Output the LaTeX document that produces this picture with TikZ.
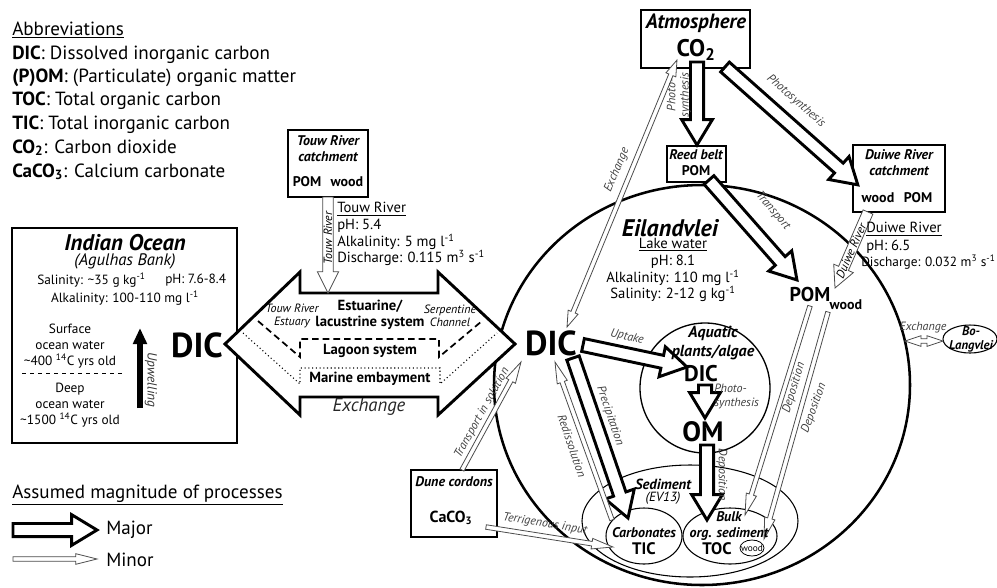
\documentclass[tikz,border=0pt]{standalone}
\usepackage{fontspec}
\setmainfont{PT Sans}
\usetikzlibrary{calc,arrows.meta}

% block arrow: style, shaft half width, head half width, head length, from, to
\newcommand{\flowarrow}[6]{%
  \filldraw[#1] let \p1=(#5), \p2=(#6),
    \n1={atan2(\y2-\y1,\x2-\x1)}, \n2={veclen(\x2-\x1,\y2-\y1)} in
    [shift={(\p1)}, rotate=\n1]
    (0pt,-#2) -- ({\n2*1pt-#4},-#2) -- ({\n2*1pt-#4},-#3) -- ({\n2*1pt},0pt)
    -- ({\n2*1pt-#4},#3) -- ({\n2*1pt-#4},#2) -- (0pt,#2) -- cycle;}
\newcommand{\flowboth}[6]{%
  \filldraw[#1] let \p1=(#5), \p2=(#6),
    \n1={atan2(\y2-\y1,\x2-\x1)}, \n2={veclen(\x2-\x1,\y2-\y1)} in
    [shift={(\p1)}, rotate=\n1]
    (0pt,0pt) -- (#4,#3) -- (#4,#2) -- ({\n2*1pt-#4},#2) -- ({\n2*1pt-#4},#3) -- ({\n2*1pt},0pt)
    -- ({\n2*1pt-#4},-#3) -- ({\n2*1pt-#4},-#2) -- (#4,-#2) -- (#4,-#3) -- cycle;}
\newcommand{\majorflow}[2]{\flowarrow{bigflow}{4.9pt}{11.5pt}{19pt}{#1}{#2}}
\newcommand{\minorflow}[2]{\flowarrow{smallflow}{1.7pt}{4pt}{16pt}{#1}{#2}}
\newcommand{\riverflow}[2]{\flowarrow{smallflow}{4pt}{8pt}{16pt}{#1}{#2}}
\newcommand{\minorboth}[2]{\flowboth{smallflow}{1.7pt}{4pt}{12pt}{#1}{#2}}

\begin{document}
\begin{tikzpicture}[x=0.75pt,y=-0.75pt,line join=miter,
  every node/.style={inner sep=0pt},
  bigflow/.style={draw=black,line width=2.2pt,fill=white},
  smallflow/.style={draw=black!70,line width=0.6pt,fill=white},
  abbr/.style={anchor=base west,font=\fontsize{14.3}{16}\selectfont},
  info/.style={anchor=west,font=\fontsize{11}{12}\selectfont},
  oceantxt/.style={font=\fontsize{10}{12}\selectfont},
  boxtitle/.style={align=center,font=\bfseries\itshape\fontsize{10.5}{12}\selectfont},
  poolname/.style={font=\bfseries\fontsize{10.5}{12}\selectfont},
  bigdic/.style={font=\bfseries\fontsize{26}{28}\selectfont},
  subsys/.style={align=center,font=\bfseries\fontsize{11}{12}\selectfont},
  proclabel/.style={align=center,font=\itshape\fontsize{9}{10}\selectfont,text=black!75},
]

\useasboundingbox (0,0) rectangle (997,587);

% abbreviations
\node[abbr] (abbrhead) at (12,35) {\underline{Abbreviations}};
\node[abbr] (abbrdic) at (12,59) {\textbf{DIC}: Dissolved inorganic carbon};
\node[abbr] (abbrpom) at (12,82) {\textbf{(P)OM}: (Particulate) organic matter};
\node[abbr] (abbrtoc) at (12,105) {\textbf{TOC}: Total organic carbon};
\node[abbr] (abbrtic) at (12,129) {\textbf{TIC}: Total inorganic carbon};
\node[abbr] (abbrco) at (12,153) {\textbf{CO\textsubscript{2}}: Carbon dioxide};
\node[abbr] (abbrcaco) at (12,177) {\textbf{CaCO\textsubscript{3}}: Calcium carbonate};

% lake and sediment outlines
\draw[line width=1.9pt] (702,385) ellipse [x radius=208, y radius=200];
\draw[line width=1pt] (705,388) circle [radius=65];
\draw[line width=0.8pt] (690,521) ellipse [x radius=108, y radius=56];
\draw[line width=0.8pt] (644,536) ellipse [x radius=38, y radius=28];
\draw[line width=0.8pt] (730,536) ellipse [x radius=47, y radius=28];
\draw[line width=0.6pt] (752,548) ellipse [x radius=12, y radius=8];
\draw[line width=0.8pt] (970,339) ellipse [x radius=27, y radius=14];

% boxes
\draw[line width=2.2pt] (12,228) rectangle (237,443);
\draw[line width=1.1pt] (288,130) rectangle (368,197);
\draw[line width=1pt] (641,10) rectangle (750,68);
\draw[line width=1pt] (667,146) rectangle (726,182);
\draw[line width=1pt] (853,145) rectangle (945,212);
\draw[line width=1pt] (411,470) rectangle (497,537);

% exchange between ocean and lake
\draw[line width=2.2pt,fill=white] (225,344) -- (300,272) -- (300,293) -- (438,293) -- (438,272)
  -- (515,344) -- (438,415) -- (438,397) -- (300,397) -- (300,415) -- cycle;
\draw[line width=1.3pt,dash pattern=on 5pt off 3pt] (258,321) -- (300,357) -- (300,339) -- (439,339) -- (439,357) -- (482,321);
\draw[line width=0.8pt,dotted] (243,333) -- (300,384) -- (300,368) -- (440,368) -- (440,384) -- (497,333);

% process arrows
\coordinate (touwout) at (328,197);
\coordinate (touwin) at (328,293);
\coordinate (co2down) at (697,62);
\coordinate (reedin) at (697,145);
\coordinate (co2right) at (725,67);
\coordinate (duiwein) at (858,185);
\coordinate (reedout) at (709,180);
\coordinate (pomin) at (797,280);
\coordinate (duiweout) at (868,212);
\coordinate (duiwelake) at (835,288);
\coordinate (dicup) at (583,345);
\coordinate (algaein) at (687,367);
\coordinate (algdic) at (705,385);
\coordinate (omin) at (705,418);
\coordinate (omout) at (707,445);
\coordinate (bulkin) at (707,520);
\coordinate (dicprec) at (573,358);
\coordinate (carbin) at (628,518);
\coordinate (carbout) at (612,520);
\coordinate (dicredis) at (555,362);
\coordinate (duneout) at (462,470);
\coordinate (dicsol) at (521,362);
\coordinate (caco3out) at (486,527);
\coordinate (carbterr) at (613,547);
\coordinate (dictop) at (567,327);
\coordinate (atmbot) at (677,60);
\coordinate (pomdep) at (810,306);
\coordinate (bulkdep) at (745,515);
\coordinate (wooddep) at (828,312);
\coordinate (woodsed) at (764,539);
\coordinate (lakeedge) at (905,341);
\coordinate (bolang) at (943,341);

\riverflow{touwout}{touwin}
\majorflow{co2down}{reedin}
\majorflow{co2right}{duiwein}
\majorflow{reedout}{pomin}
\riverflow{duiweout}{duiwelake}
\majorflow{dicup}{algaein}
\majorflow{algdic}{omin}
\majorflow{omout}{bulkin}
\majorflow{dicprec}{carbin}
\minorflow{carbout}{dicredis}
\minorflow{duneout}{dicsol}
\minorflow{caco3out}{carbterr}
\minorboth{dictop}{atmbot}
\minorflow{pomdep}{bulkdep}
\minorflow{wooddep}{woodsed}
\minorboth{lakeedge}{bolang}

% Indian Ocean
\node[font=\bfseries\itshape\fontsize{17}{19}\selectfont] (oceanname) at (125,243) {Indian Ocean};
\node[font=\itshape\fontsize{12.5}{14}\selectfont] (agulhas) at (125,261) {(Agulhas Bank)};
\node[oceantxt,anchor=west] (oceansal) at (37,280) {Salinity: \textasciitilde35 g kg\textsuperscript{-1}};
\node[oceantxt,anchor=west] (oceanph) at (165,280) {pH: 7.6-8.4};
\node[oceantxt] (oceanalk) at (125,298) {Alkalinity: 100-110 mg l\textsuperscript{-1}};
\node[oceantxt,align=center] (surface) at (70,346) {Surface\\ocean water\\\textasciitilde400 \textsuperscript{14}C yrs old};
\draw[dashed,line width=0.6pt] (22,373) -- (122,373);
\node[oceantxt,align=center] (deep) at (70,405) {Deep\\ocean water\\\textasciitilde1500 \textsuperscript{14}C yrs old};
\coordinate (upwfrom) at (140,408);
\coordinate (upwto) at (140,328);
\draw[line width=4.5pt,-{Triangle[width=10pt,length=12pt]}] (upwfrom) -- (upwto);
\node[oceantxt,font=\itshape\fontsize{10}{12}\selectfont,text=black!80,rotate=-90] (upwelling) at (151,380) {Upwelling};
\node[bigdic] (oceandic) at (197,345) {DIC};

% estuary labels
\node[subsys] (estuarine) at (370,315) {Estuarine/\\lacustrine system};
\node[proclabel,text=black] (touwestuary) at (292,316) {Touw River\\Estuary};
\node[proclabel,text=black] (serpentine) at (450,316) {Serpentine\\Channel};
\node[subsys] (lagoon) at (370,351) {Lagoon system};
\node[subsys] (marine) at (370,379) {Marine embayment};
\node[font=\itshape\fontsize{14}{16}\selectfont,text=black!85] (exchange) at (369,407) {Exchange};

% Touw River catchment
\node[boxtitle] (touwname) at (328,149) {Touw River\\catchment};
\node[poolname] (touwpom) at (307,182) {POM};
\node[poolname] (touwwood) at (347,182) {wood};
\node[proclabel,text=black,rotate=90] (touwriver) at (328,238) {Touw River};
\node[info] (touwhead) at (337,209) {\underline{Touw River}};
\node[info] (touwph) at (337,226) {pH: 5.4};
\node[info] (touwalk) at (337,242) {Alkalinity: 5 mg l\textsuperscript{-1}};
\node[info] (touwdis) at (337,258) {Discharge: 0.115 m\textsuperscript{3} s\textsuperscript{-1}};

% atmosphere, reed belt, Duiwe River
\node[font=\bfseries\itshape\fontsize{15.5}{17}\selectfont] (atmname) at (696,23) {Atmosphere};
\node[font=\bfseries\fontsize{18}{20}\selectfont] (atmco) at (696,50) {CO\textsubscript{2}};
\node[boxtitle] (reedname) at (696,155) {Reed belt};
\node[poolname] (reedpom) at (696,171) {POM};
\node[boxtitle] (duiwename) at (899,163) {Duiwe River\\catchment};
\node[poolname] (duiwewood) at (878,198) {wood};
\node[poolname] (duiwepom) at (918,198) {POM};
\node[proclabel,rotate=90] (atmphoto) at (679,95) {Photo-\\synthesis};
\node[proclabel,rotate=-41] (duiwephoto) at (796,101) {Photosynthesis};
\node[proclabel,rotate=-49] (transport) at (773,211) {Transport};
\node[proclabel,text=black,rotate=66] (duiweriver) at (851,251) {Duiwe River};
\node[info] (duiwehead) at (866,229) {\underline{Duiwe River}};
\node[info] (duiweph) at (866,247) {pH: 6.5};
\node[info,font=\fontsize{10}{12}\selectfont] (duiwedis) at (861,262) {Discharge: 0.032 m\textsuperscript{3} s\textsuperscript{-1}};

% Eilandvlei
\node[font=\bfseries\itshape\fontsize{18}{20}\selectfont] (lakename) at (670,228) {Eilandvlei};
\node[info,anchor=center] (lakehead) at (673,245) {\underline{Lake water}};
\node[info,anchor=center] (lakeph) at (673,262) {pH: 8.1};
\node[info,anchor=center] (lakealk) at (673,278) {Alkalinity: 110 mg l\textsuperscript{-1}};
\node[info,anchor=center] (lakesal) at (673,294) {Salinity: 2-12 g kg\textsuperscript{-1}};
\node[bigdic] (lakedic) at (551,343) {DIC};
\node[font=\bfseries\fontsize{15}{17}\selectfont] (lakepom) at (810,294) {POM};
\node[poolname] (lakewood) at (846,305) {wood};

% aquatic plants
\node[boxtitle,font=\bfseries\itshape\fontsize{12}{14}\selectfont] (aquatic) at (713,343) {Aquatic\\plants/algae};
\node[font=\bfseries\fontsize{17}{19}\selectfont] (algdicname) at (701,374) {DIC};
\node[proclabel,align=left,anchor=north west] (algphoto) at (714,384) {Photo-\\synthesis};
\node[font=\bfseries\fontsize{21}{23}\selectfont] (omname) at (703,432) {OM};

% sediment
\node[boxtitle,font=\bfseries\itshape\fontsize{11}{12}\selectfont] (sediment) at (663,484) {Sediment};
\node[font=\itshape\fontsize{10}{12}\selectfont] (ev13) at (663,498) {(EV13)};
\node[boxtitle] (carbonates) at (644,533) {Carbonates};
\node[font=\bfseries\fontsize{12.5}{14}\selectfont] (tic) at (644,549) {TIC};
\node[boxtitle] (bulk) at (729,526) {Bulk\\org. sediment};
\node[font=\bfseries\fontsize{12.5}{14}\selectfont] (toc) at (717,549) {TOC};
\node[font=\fontsize{7}{8}\selectfont] (sedwood) at (752,548) {wood};

% Dune cordons
\node[boxtitle] (dunename) at (454,482) {Dune cordons};
\node[font=\bfseries\fontsize{12}{14}\selectfont] (duneco) at (451,518) {CaCO\textsubscript{3}};

% Bo-Langvlei
\node[boxtitle,font=\bfseries\itshape\fontsize{9.5}{10.5}\selectfont] (bolangname) at (971,339) {Bo-\\Langvlei};

% process labels
\node[proclabel,rotate=-12] (uptake) at (627,337) {Uptake};
\node[proclabel,rotate=-90] (omdepo) at (722,475) {Deposition};
\node[proclabel,rotate=-71] (precip) at (610,416) {Precipitation};
\node[proclabel,rotate=-71] (redis) at (572,446) {Redissolution};
\node[proclabel,rotate=61] (solution) at (482,413) {Transport in solution};
\node[proclabel,rotate=-9] (terrig) at (545,524) {Terrigenous input};
\node[proclabel,rotate=67] (atmexch) at (617,170) {Exchange};
\node[proclabel,rotate=73] (pomdepo) at (794,388) {Deposition};
\node[proclabel,rotate=70] (wooddepo) at (814,408) {Deposition};
\node[proclabel] (boexch) at (923,328) {Exchange};

% legend
\node[abbr] (leghead) at (12,498) {\underline{Assumed magnitude of processes}};
\coordinate (legmaj) at (13,530);
\coordinate (legmajend) at (97,530);
\coordinate (legmin) at (13,559);
\coordinate (legminend) at (97,559);
\majorflow{legmaj}{legmajend}
\minorflow{legmin}{legminend}
\node[abbr,anchor=west] (legmajor) at (106,530) {Major};
\node[abbr,anchor=west] (legminor) at (106,560) {Minor};

\end{tikzpicture}
\end{document}
